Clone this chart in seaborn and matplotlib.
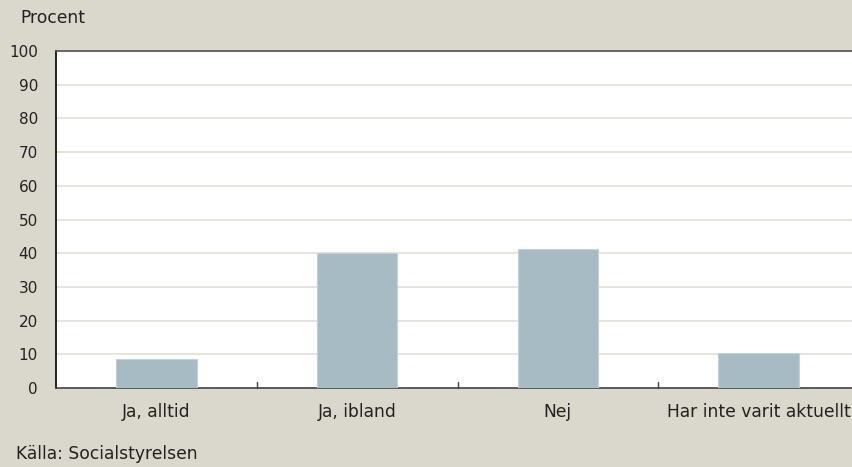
import matplotlib
matplotlib.use('Agg')
import numpy as np
import pandas as pd
import seaborn as sns
from matplotlib import pyplot as plt

categories = ['Ja, alltid', 'Ja, ibland', 'Nej', 'Har inte varit aktuellt']
values = [8.6, 40.0, 41.2, 10.4]
yticks = [0, 10, 20, 30, 40, 50, 60, 70, 80, 90, 100]

bg = '#dad8cc'
bar_color = '#a7bbc5'

sns.set_theme(style='white')
plt.rcParams['font.family'] = ['DejaVu Sans']

df = pd.DataFrame({'svar': categories, 'procent': values})

fig = plt.figure(figsize=(8.53, 4.67), dpi=100, facecolor=bg)
ax = fig.add_axes([56 / 853, 1 - 388 / 467, 803 / 853, 337 / 467])
ax.set_facecolor('white')

sns.barplot(data=df, x='svar', y='procent', color=bar_color, width=0.4,
            saturation=1, edgecolor='#c4d2d8', linewidth=0.8, ax=ax, zorder=3)

ax.set_ylim(0, 100)
ax.set_xlim(-0.5, 3.5)
ax.set_yticks(yticks)
ax.set_yticklabels([str(t) for t in yticks], fontsize=11, color='#222222')
ax.yaxis.grid(True, color='#e2e0d4', linewidth=1.2, zorder=0)
ax.set_axisbelow(True)
ax.tick_params(axis='y', length=0, pad=13)

ax.set_xticks([0, 1, 2, 3])
ax.set_xticklabels(categories, fontsize=12.3, color='#222222')
ax.tick_params(axis='x', length=0, pad=11)
for b in [0.5, 1.5, 2.5]:
    ax.plot([b, b], [0, 1.8], color='#444444', linewidth=1, zorder=4, clip_on=False)

ax.set_xlabel('')
ax.set_ylabel('')
for side in ['left', 'top', 'bottom', 'right']:
    ax.spines[side].set_visible(True)
ax.spines['left'].set_color('#000000')
ax.spines['top'].set_color('#555555')
ax.spines['bottom'].set_color('#444444')
ax.spines['right'].set_color('#555555')
for s in ax.spines.values():
    s.set_linewidth(1.2)

fig.text(20 / 853, 1 - 18 / 467, 'Procent', fontsize=12.3, color='#222222', va='center')
fig.text(16 / 853, 1 - 454 / 467, 'Källa: Socialstyrelsen', fontsize=12.3, color='#222222', va='center')

fig.savefig('out.png', dpi=100, facecolor=bg)
